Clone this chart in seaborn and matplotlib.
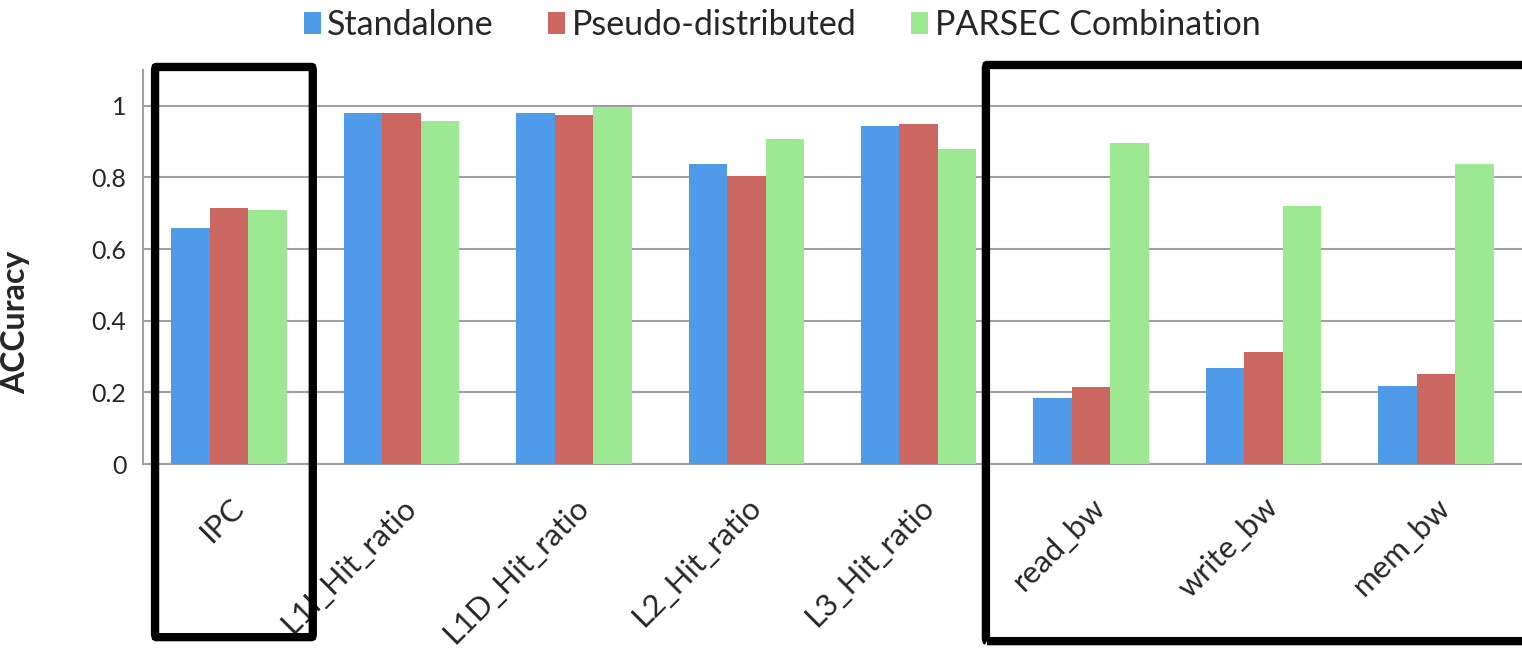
import pandas as pd
import numpy as np
import seaborn as sns
import matplotlib.pyplot as plt
import matplotlib.transforms as mtransforms
from matplotlib.patches import FancyBboxPatch

metrics = ["IPC", "L1I_Hit_ratio", "L1D_Hit_ratio", "L2_Hit_ratio",
           "L3_Hit_ratio", "read_bw", "write_bw", "mem_bw"]
standalone = [0.66, 0.981, 0.979, 0.837, 0.944, 0.184, 0.267, 0.217]
pseudo = [0.714, 0.979, 0.974, 0.804, 0.948, 0.214, 0.312, 0.251]
parsec = [0.71, 0.959, 0.998, 0.908, 0.879, 0.896, 0.72, 0.837]
series = ["Standalone", "Pseudo-distributed", "PARSEC Combination"]
colors = ["#4f9ae9", "#cc6660", "#9de893"]

df = pd.DataFrame({"metric": metrics * 3,
                   "value": standalone + pseudo + parsec,
                   "series": [s for s in series for _ in metrics]})

sns.set_style("white")
plt.rcParams["font.family"] = ["Lato", "DejaVu Sans"]

fig = plt.figure(figsize=(15.22, 6.63), dpi=100)
ax = fig.add_axes([143 / 1522, 1 - 464 / 663, 1379 / 1522, 394 / 663])

sns.barplot(data=df, x="metric", y="value", hue="series", palette=colors,
            width=0.67, gap=0, saturation=1, linewidth=0, ax=ax, zorder=3)

ax.set_xlim(-0.5, 7.5)
ax.set_ylim(0, 1.1)
ax.set_yticks([0, 0.2, 0.4, 0.6, 0.8, 1.0])
ax.set_yticklabels(["0", "0.2", "0.4", "0.6", "0.8", "1"], fontsize=18)
ax.yaxis.grid(True, color="#a0a0a0", linewidth=1.5, zorder=0)
ax.set_axisbelow(True)

for side in ["top", "right"]:
    ax.spines[side].set_visible(False)
ax.spines["left"].set_color("#a0a0a0")
ax.spines["bottom"].set_color("#a0a0a0")
ax.spines["left"].set_linewidth(1.5)
ax.spines["bottom"].set_linewidth(1.5)
ax.tick_params(axis="y", length=6, width=1.5, color="#a0a0a0", pad=6)

# group separator ticks
ax.set_xticks(np.arange(-0.5, 8, 1), minor=True)
ax.tick_params(axis="x", which="minor", length=6, width=1.5, color="#a0a0a0")
ax.tick_params(axis="x", which="major", length=0, pad=28)
ax.set_xticks(range(len(metrics)))
ax.set_xticklabels(metrics, rotation=45, ha="right", va="center",
                   rotation_mode="anchor", fontsize=22.5)
offset = mtransforms.ScaledTranslation(0.1, 0, fig.dpi_scale_trans)
for lab in ax.get_xticklabels():
    lab.set_transform(lab.get_transform() + offset)

ax.set_xlabel("")
ax.set_ylabel("ACCuracy", fontsize=23, fontweight="bold")
ax.yaxis.set_label_coords(-0.082, 0.36)

# legend on top
handles, labels = ax.get_legend_handles_labels()
ax.legend_.remove()
fig.legend(handles, labels, loc="center", bbox_to_anchor=(0.514, 0.962),
           ncol=3, frameon=False, fontsize=24.5, handlelength=0.5,
           handleheight=0.6, handletextpad=0.2, columnspacing=1.6)

# black highlight boxes
trans = mtransforms.blended_transform_factory(ax.transData, fig.transFigure)
for x0, x1, y0, y1 in [(-0.43, 0.485, 0.039, 0.899), (4.39, 7.56, 0.033, 0.902)]:
    box = FancyBboxPatch((x0, y0), x1 - x0, y1 - y0,
                         boxstyle="round,pad=0,rounding_size=0.006",
                         transform=trans, fill=False, edgecolor="black",
                         linewidth=6, clip_on=False, zorder=10)
    fig.patches.append(box)

fig.savefig("out.png", dpi=100)
